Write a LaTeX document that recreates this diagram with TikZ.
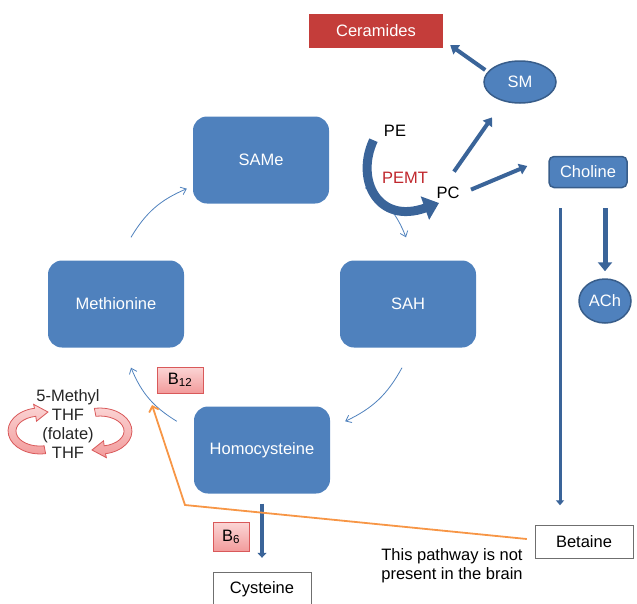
\documentclass[tikz,border=0pt]{standalone}
\usepackage{fontspec}
\setmainfont{Liberation Sans}
\usetikzlibrary{positioning, calc, arrows.meta, shapes.geometric}
\definecolor{boxblue}{HTML}{4F81BD}
\definecolor{edgeblue}{HTML}{385D8A}
\definecolor{arrowblue}{HTML}{3A6499}
\definecolor{cerared}{HTML}{C43D3A}
\definecolor{pemtred}{HTML}{C0272D}
\definecolor{pinktop}{HTML}{FBD5D5}
\definecolor{pinkbot}{HTML}{F29B9B}
\definecolor{pinkedge}{HTML}{D9595A}
\definecolor{pathorange}{HTML}{F79646}
\definecolor{boxgrey}{HTML}{6F6F6F}

\begin{document}
\begin{tikzpicture}[x=1pt, y=1pt, font=\fontsize{16.5}{19}\selectfont,
  bigbox/.style={rectangle, rounded corners=14pt, fill=boxblue, text=white, minimum width=136pt, minimum height=87pt},
  bluering/.style={ellipse, fill=boxblue, draw=edgeblue, line width=1.5pt, text=white, inner sep=0pt},
  whitebox/.style={rectangle, draw=boxgrey, fill=white, minimum width=98pt, minimum height=33pt},
  vitbox/.style={rectangle, draw=pinkedge, top color=pinktop, bottom color=pinkbot, minimum height=26pt, inner sep=2pt},
  cycle/.style={draw=boxblue, line width=0.8pt, -{Straight Barb[length=5pt,width=8pt]}, bend left=18},
  thickarrow/.style={draw=arrowblue, line width=4pt, -{Triangle[width=11pt,length=8pt]}},
  folatearrow/.style={draw=pinkedge, line width=0.8pt, top color=pinktop, bottom color=pinkbot}
]
\useasboundingbox (0,0) rectangle (637,-603);

% methionine cycle
\node[bigbox] (same) at (261,-160) {SAMe};
\node[bigbox] (sah) at (408,-304) {SAH};
\node[bigbox] (met) at (116,-304) {Methionine};
\node[bigbox] (hcy) at (262,-450) {Homocysteine};

\draw[cycle] ($(met.north)+(15,23)$) to ($(same.south west)+(-6,15)$);
\draw[cycle] ($(same.south east)+(36,16)$) to ($(sah.north)+(-2,23)$);
\draw[cycle] ($(sah.south)+(-6,-20)$) to ($(hcy.north east)+(15,-15)$);
\draw[cycle] ($(hcy.north west)+(-17,-15)$) to ($(met.south)+(15,-20)$);

% PE to PC
\node (pe) at (395,-131) {PE};
\node[text=pemtred] (pemt) at (405,-178) {PEMT};
\node (pc) at (448,-193) {PC};
\draw[draw=arrowblue, line width=9pt, -{Triangle[width=24pt,length=15pt]}]
  ($(pe.south west)+(-7,0)$) .. controls (355,-180) and (378,-225) .. ($(pc.west)+(6,-10)$);

\node[bluering, minimum width=72pt, minimum height=42pt] (sm) at (520,-82) {SM};
\node[rectangle, fill=cerared, text=white, minimum width=134pt, minimum height=34pt] (cer) at (376,-31) {Ceramides};
\node[rectangle, rounded corners=5pt, fill=boxblue, draw=edgeblue, line width=1.5pt, text=white, minimum width=78pt, minimum height=31pt] (chol) at (588,-172) {Choline};
\node[bluering, minimum width=52pt, minimum height=44pt] (ach) at (605,-301) {ACh};

\draw[thickarrow] ($(pc.north)+(6,12)$) -- ($(sm.south west)+(-2,-20)$);
\draw[thickarrow] ($(pc.north east)+(8,-6)$) -- ($(chol.west)+(-21,6)$);
\draw[thickarrow] ($(sm.west)+(2,12)$) -- ($(cer.south east)+(7,3)$);
\draw[thickarrow, line width=5pt, -{Triangle[width=14pt,length=9pt]}] ($(chol.south)+(17,-20)$) -- ($(ach.north)+(0,7)$);

% betaine and cysteine
\node[whitebox] (bet) at (584,-542) {Betaine};
\node[whitebox, minimum height=34pt] (cys) at (262,-589) {Cysteine};
\draw[draw=arrowblue, line width=3pt, -{Triangle[width=8pt,length=5pt]}] ($(chol.south)+(-28,-20)$) -- ($(bet.north)+(-24,20)$);
\draw[draw=arrowblue, line width=4pt, -{Triangle[width=9pt,length=5pt]}] ($(hcy.south)+(0,-10)$) -- ($(cys.north)+(0,14)$);

\node[vitbox, minimum width=46pt] (b12) at (180,-380) {B\textsubscript{12}};
\node[vitbox, minimum width=36pt, minimum height=29pt] (b6) at (231,-537) {B\textsubscript{6}};

% betaine path
\coordinate (kink) at (185,-505);
\coordinate (tip) at (152,-405);
\draw[pathorange, line width=1.8pt, -{Straight Barb[length=5pt,width=10pt]}] ($(bet.west)+(-8,3)$) -- (kink) -- (tip);
\node[align=left] (note) at (452,-566) {This pathway is not\\present in the brain};

% folate
\node[align=center, text=black!85] (folate) at (68,-424) {5-Methyl\\THF\\(folate)\\THF};
\path[folatearrow] (45.6,-453.6) arc[start angle=280, end angle=100, x radius=32, y radius=23]
  -- (33.6,-404.3) -- (48,-412) -- (36.5,-421.2) -- (35.8,-416.3)
  arc[start angle=100, end angle=280, x radius=24, y radius=15] -- cycle;
\path[folatearrow] (94.4,-408.4) arc[start angle=100, end angle=-80, x radius=32, y radius=23]
  -- (106.4,-457.7) -- (92,-450) -- (103.5,-440.8) -- (104.2,-445.8)
  arc[start angle=-80, end angle=100, x radius=24, y radius=15] -- cycle;
\end{tikzpicture}
\end{document}
